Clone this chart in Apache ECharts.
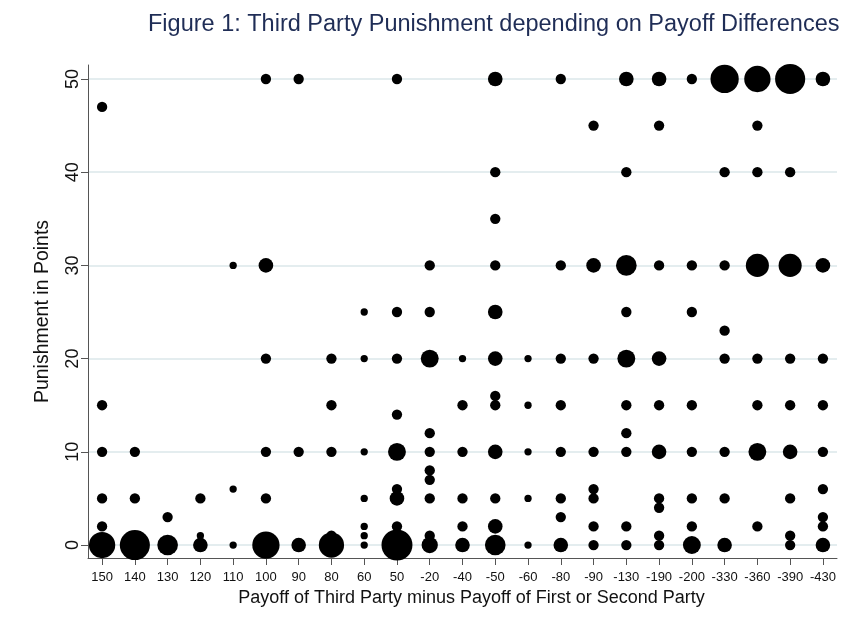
<!DOCTYPE html>
<html>
<head>
<meta charset="utf-8">
<script src="https://cdn.jsdelivr.net/npm/echarts@6/dist/echarts.min.js"></script>
<style>html,body{margin:0;padding:0;background:#fff;}#c{width:845px;height:624px;}</style>
</head>
<body>
<div id="c"></div>
<script>
// Payoff difference categories (x axis, in display order)
const categories = ['150','140','130','120','110','100','90','80','60','50','-20','-40','-50','-60','-80','-90','-130','-190','-200','-330','-360','-390','-430'];
// Y tick labels
const yTicks = [0, 10, 20, 30, 40, 50];

// Each observation cluster: payoff category, punishment points, estimated frequency (marker weight)
const payoffCat = [
 '150','150','150','150','150','150',
 '140','140','140',
 '130','130',
 '120','120','120',
 '110','110','110',
 '100','100','100','100','100','100',
 '90','90','90',
 '80','80','80','80','80',
 '60','60','60','60','60','60','60',
 '50','50','50','50','50','50','50','50','50',
 '-20','-20','-20','-20','-20','-20','-20','-20','-20','-20',
 '-40','-40','-40','-40','-40','-40',
 '-50','-50','-50','-50','-50','-50','-50','-50','-50','-50','-50','-50',
 '-60','-60','-60','-60','-60',
 '-80','-80','-80','-80','-80','-80','-80','-80',
 '-90','-90','-90','-90','-90','-90','-90','-90',
 '-130','-130','-130','-130','-130','-130','-130','-130','-130','-130',
 '-190','-190','-190','-190','-190','-190','-190','-190','-190','-190',
 '-200','-200','-200','-200','-200','-200','-200','-200',
 '-330','-330','-330','-330','-330','-330','-330','-330',
 '-360','-360','-360','-360','-360','-360','-360','-360',
 '-390','-390','-390','-390','-390','-390','-390','-390','-390',
 '-430','-430','-430','-430','-430','-430','-430','-430','-430'
];
const punishment = [
 47,15,10,5,2,0,
 10,5,0,
 3,0,
 5,1,0,
 30,6,0,
 50,30,20,10,5,0,
 50,10,0,
 20,15,10,1,0,
 25,20,10,5,2,1,0,
 50,25,20,14,10,6,5,2,0,
 30,25,20,12,10,8,7,5,1,0,
 20,15,10,5,2,0,
 50,40,35,30,25,20,16,15,10,5,2,0,
 20,15,10,5,0,
 50,30,20,15,10,5,3,0,
 45,30,20,10,6,5,2,0,
 50,40,30,25,20,15,12,10,2,0,
 50,45,30,20,15,10,5,4,1,0,
 50,30,25,15,10,5,2,0,
 50,40,30,23,20,10,5,0,
 50,45,40,30,20,15,10,2,
 50,40,30,20,15,10,5,1,0,
 50,30,20,15,10,6,3,2,0
];
const frequency = [
 2,2,2,2,2,13,
 2,2,17,
 2,8,
 2,1,4,
 1,1,1,
 2,4,2,2,2,14,
 2,2,4,
 2,2,2,2,12,
 1,1,1,1,1,1,1,
 2,2,2,2,6,2,4,2,18,
 2,2,6,2,2,2,2,2,2,5,
 1,2,2,2,2,4,
 4,2,2,2,4,4,2,2,4,2,4,8,
 1,1,1,1,1,
 2,2,2,2,2,2,2,4,
 2,4,2,2,2,2,2,2,
 4,2,8,2,6,2,2,2,2,2,
 4,2,2,4,2,4,2,2,2,2,
 2,2,2,2,2,2,2,6,
 15,2,2,2,2,2,2,4,
 13,2,2,10,2,2,6,2,
 17,2,10,2,2,4,2,2,2,
 4,4,2,2,2,2,2,2,4
];

const points = payoffCat.map((c, i) => [categories.indexOf(c), punishment[i], frequency[i]]);
const catIdx = categories.map((c, i) => i);
const FONT = "'Liberation Sans', Arial, sans-serif";

const chart = echarts.init(document.getElementById('c'), null, {renderer: 'canvas'});
chart.setOption({
  backgroundColor: '#ffffff',
  animation: false,
  title: {
    text: 'Figure 1: Third Party Punishment depending on Payoff Differences',
    left: 143, top: 8,
    textStyle: {fontFamily: FONT, fontSize: 23.5, fontWeight: 'normal', color: '#1f2d56'}
  },
  grid: {left: 88, right: 8, top: 65, bottom: 66, containLabel: false},
  xAxis: {
    type: 'value', min: -0.43, max: 22.43,
    name: 'Payoff of Third Party minus Payoff of First or Second Party',
    nameLocation: 'middle', nameGap: 26,
    nameTextStyle: {fontFamily: FONT, fontSize: 18, color: '#111', padding: [0, 0, 0, 18]},
    axisLine: {show: true, onZero: false, lineStyle: {color: '#555', width: 1}},
    axisTick: {show: true, length: 7, customValues: catIdx, lineStyle: {color: '#555'}},
    axisLabel: {customValues: catIdx, margin: 13, fontFamily: FONT, fontSize: 13, color: '#111',
      formatter: v => categories[Math.round(v)]},
    splitLine: {show: false}
  },
  yAxis: {
    type: 'value', min: -1.39, max: 51.5,
    name: 'Punishment in Points',
    nameLocation: 'middle', nameGap: 35,
    nameTextStyle: {fontFamily: FONT, fontSize: 19.5, color: '#111'},
    axisLine: {show: true, onZero: false, lineStyle: {color: '#555', width: 1}},
    axisTick: {show: true, length: 7, customValues: yTicks, lineStyle: {color: '#555'}},
    axisLabel: {customValues: yTicks, rotate: 90, margin: 6, fontFamily: FONT, fontSize: 18, color: '#111'},
    splitLine: {show: true, lineStyle: {color: '#e4edef', width: 2}}
  },
  series: [{
    type: 'scatter',
    data: points,
    symbol: 'circle',
    symbolSize: d => 7.3 * Math.sqrt(d[2]),
    itemStyle: {color: '#000', opacity: 1},
    emphasis: {disabled: true}
  }]
});
</script>
</body>
</html>
